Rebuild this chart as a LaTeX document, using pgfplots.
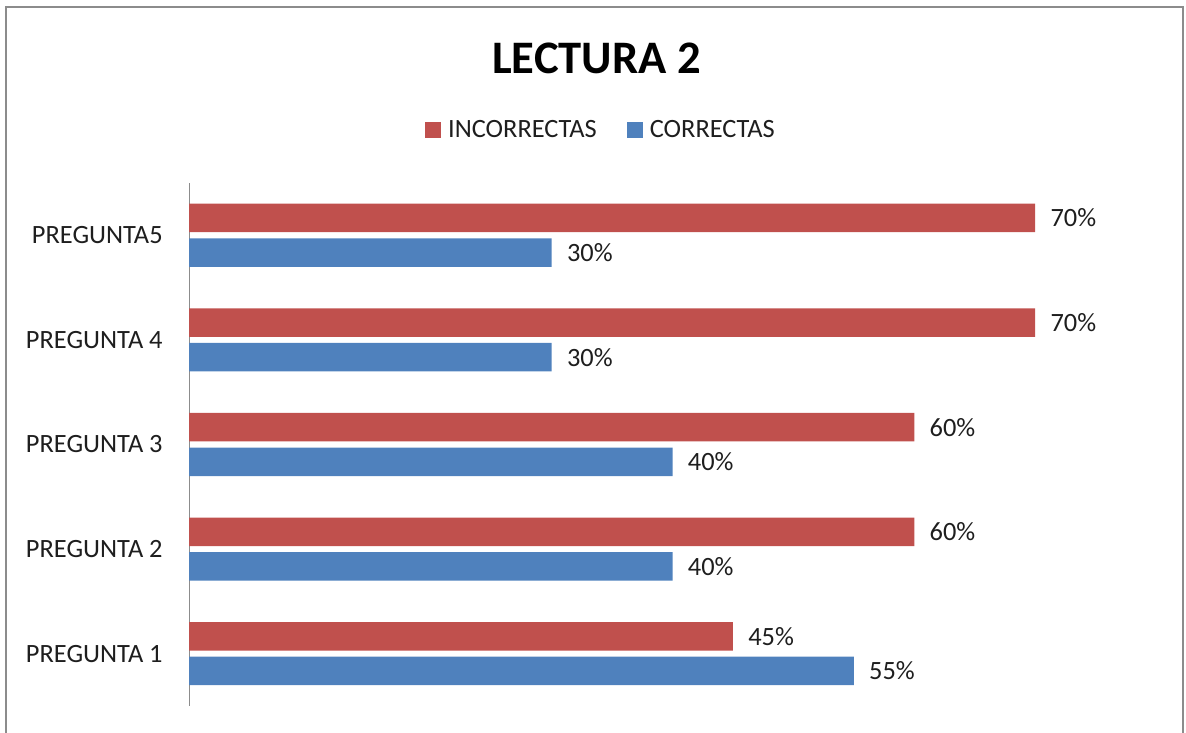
\documentclass[border=0pt]{standalone}
\usepackage{pgfplots}
\pgfplotsset{compat=1.18}
\usepackage{fontspec}
\setmainfont{Carlito}
\definecolor{barred}{HTML}{C0504D}
\definecolor{barblue}{HTML}{4F81BD}
\definecolor{framegray}{HTML}{8C8C8C}
\definecolor{txt}{HTML}{1E1E1E}
\begin{document}
\begin{tikzpicture}
\useasboundingbox (0pt,0pt) rectangle (593pt,366pt);
\draw[framegray, line width=1pt] (3.1pt,-2pt) -- (3.1pt,362.25pt) -- (591.7pt,362.25pt) -- (591.7pt,-2pt);
\node[anchor=base, inner sep=0, font=\fontsize{23.3}{28}\selectfont\bfseries] at (298.3pt,329.35pt) {LECTURA 2};
\begin{axis}[
  at={(94.5pt,13pt)}, anchor=south west,
  scale only axis, width=483.5pt, height=261.5pt,
  xmin=0, xmax=80, ymin=0.5, ymax=5.5,
  axis x line=none, axis y line*=left,
  y axis line style={draw=framegray, line width=0.5pt, -},
  ytick={1,2,3,4,5},
  yticklabels={PREGUNTA 1,PREGUNTA 2,PREGUNTA 3,PREGUNTA 4,PREGUNTA5},
  major tick length=0pt,
  yticklabel style={inner sep=0pt, xshift=-13pt, font=\fontsize{13.2}{15}\selectfont, text=txt},
  xbar, bar width=14.25pt,
  point meta=x,
  nodes near coords={\pgfmathprintnumber[assume math mode=true]{\pgfplotspointmeta}\%},
  every node near coord/.append style={anchor=west, inner sep=0pt, xshift=7.5pt, font=\fontsize{13.2}{15}\selectfont, text=txt},
  legend image code/.code={\path[fill] (0pt,-4pt) rectangle (8pt,4pt);},
  legend columns=2,
  legend style={at={(rel axis cs:0.425,1.1013)}, anchor=center, draw=none, fill=none,
    inner sep=0pt, font=\fontsize{13.2}{15}\selectfont, text=txt,
    nodes={inner sep=0pt}, column sep=3.5pt,
    /tikz/every even column/.append style={column sep=15pt}},
  clip=false,
]
\addplot[fill=barred, draw=none, bar shift=8.65pt] coordinates {(45,1) (60,2) (60,3) (70,4) (70,5)};
\addlegendentry{INCORRECTAS}
\addplot[fill=barblue, draw=none, bar shift=-8.65pt] coordinates {(55,1) (40,2) (40,3) (30,4) (30,5)};
\addlegendentry{CORRECTAS}
\end{axis}
\end{tikzpicture}
\end{document}
